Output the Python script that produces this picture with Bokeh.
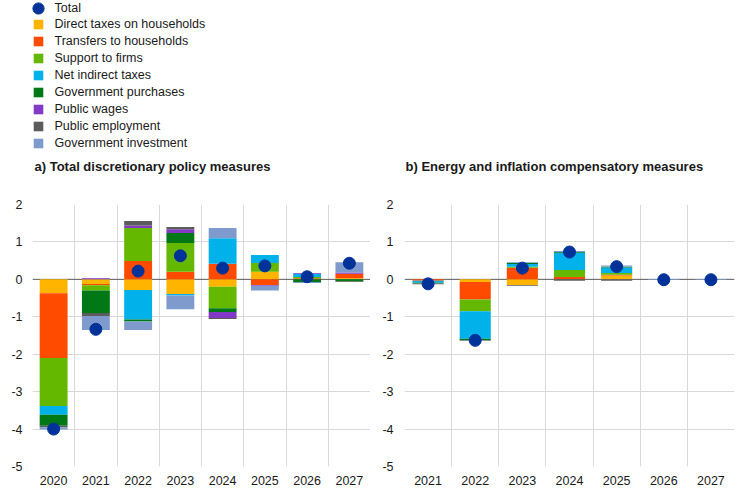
from bokeh.plotting import figure
from bokeh.models import Range1d, FixedTicker, Span, Legend, LegendItem, Label, ColumnDataSource
from bokeh.layouts import column, row
from bokeh.embed import file_html
from bokeh.resources import INLINE

# ---------------- data ----------------
series_names = ["Direct taxes on households", "Transfers to households", "Support to firms",
                "Net indirect taxes", "Government purchases", "Public wages",
                "Public employment", "Government investment"]
series_colors = ["#FFB400", "#FF4B00", "#65B800", "#00B1EA", "#007816", "#8139C6",
                 "#5C5C5C", "#7F9BCD"]
total_color = "#003299"

years_a = [2020, 2021, 2022, 2023, 2024, 2025, 2026, 2027]
direct_a = [-0.37, -0.125, -0.285, -0.39, -0.20, 0.20, 0.0, 0.03]
transfers_a = [-1.73, -0.035, 0.49, 0.20, 0.42, -0.15, 0.03, 0.12]
support_a = [-1.285, -0.14, 0.88, 0.77, -0.57, 0.24, 0.03, 0.0]
net_indirect_a = [-0.235, 0.0, -0.79, -0.04, 0.68, 0.21, 0.09, 0.0]
purchases_a = [-0.29, -0.60, -0.05, 0.27, -0.10, 0.0, -0.07, -0.05]
wages_a = [0.0, 0.03, 0.07, 0.10, -0.16, -0.02, 0.02, 0.03]
employment_a = [-0.04, -0.08, 0.12, 0.06, -0.03, 0.0, 0.0, -0.02]
investment_a = [-0.06, -0.37, -0.23, -0.37, 0.27, -0.13, -0.03, 0.28]
total_a = [-4.0, -1.335, 0.22, 0.63, 0.30, 0.36, 0.07, 0.43]

years_b = [2021, 2022, 2023, 2024, 2025, 2026, 2027]
direct_b = [0.0, -0.07, -0.15, 0.0, 0.10, 0.0, 0.0]
transfers_b = [-0.04, -0.47, 0.31, 0.06, 0.025, 0.0, 0.0]
support_b = [0.0, -0.31, 0.03, 0.19, 0.045, 0.0, 0.0]
net_indirect_b = [-0.05, -0.74, 0.07, 0.46, 0.15, 0.0, 0.0]
purchases_b = [-0.02, -0.04, 0.03, 0.02, 0.02, 0.0, 0.0]
wages_b = [0.0, 0.0, 0.0, 0.0, 0.0, 0.0, 0.0]
employment_b = [-0.02, -0.01, -0.02, -0.04, -0.035, 0.0, 0.0]
investment_b = [0.0, -0.01, 0.02, 0.03, 0.03, -0.02, -0.02]
total_b = [-0.12, -1.63, 0.30, 0.73, 0.34, -0.01, -0.01]

y_ticks = [-5, -4, -3, -2, -1, 0, 1, 2]

title_a = "a) Total discretionary policy measures"
title_b = "b) Energy and inflation compensatory measures"

FONT = "'Liberation Sans', Arial, sans-serif"
TITLE_FONT = "'Liberation Sans Narrow', 'Arial Narrow', 'Liberation Sans', sans-serif"
TEXT_COLOR = "#1a1a1a"
GRID_COLOR = "#d9d9d9"


def make_chart(years, series, total, width, left_border, right_border, standoff):
    p = figure(width=width, height=301, output_backend="svg", toolbar_location=None,
               x_range=Range1d(years[0] - 0.5, years[-1] + 0.5), y_range=Range1d(-5, 2),
               min_border_left=left_border, min_border_right=right_border, min_border_top=14,
               min_border_bottom=25)
    p.outline_line_color = None
    p.background_fill_color = "white"
    p.border_fill_color = "white"

    # grids
    p.xgrid.ticker = FixedTicker(ticks=[y - 0.5 for y in years] + [years[-1] + 0.5])
    p.xgrid.grid_line_color = GRID_COLOR
    p.ygrid.ticker = FixedTicker(ticks=[t for t in y_ticks if t != 0])
    p.ygrid.grid_line_color = GRID_COLOR
    p.add_layout(Span(location=0, dimension="width", line_color="#595959", line_width=1,
                      level="underlay"))

    # stacked bars (positive and negative stacks separately)
    n = len(years)
    pos = [0.0] * n
    neg = [0.0] * n
    for vals, color in zip(series, series_colors):
        bottoms, tops = [], []
        for i, v in enumerate(vals):
            if v >= 0:
                bottoms.append(pos[i]); pos[i] += v; tops.append(pos[i])
            else:
                tops.append(neg[i]); neg[i] += v; bottoms.append(neg[i])
        src = ColumnDataSource(data=dict(x=years, bottom=bottoms, top=tops))
        p.vbar(x="x", bottom="bottom", top="top", width=0.66, source=src,
               fill_color=color, line_color=None)

    tsrc = ColumnDataSource(data=dict(x=years, y=total))
    p.scatter(x="x", y="y", source=tsrc, marker="circle", size=12,
              fill_color=total_color, line_color=total_color)

    # axes
    p.xaxis.ticker = FixedTicker(ticks=years)
    p.xaxis.major_label_overrides = {y: str(y) for y in years}
    p.yaxis.ticker = FixedTicker(ticks=y_ticks)
    p.yaxis.major_label_overrides = {t: str(t) for t in y_ticks}
    for ax in (p.xaxis, p.yaxis):
        ax.axis_line_color = None
        ax.major_tick_line_color = None
        ax.minor_tick_line_color = None
        ax.major_tick_out = 0
        ax.major_tick_in = 0
        ax.major_label_text_font = FONT
        ax.major_label_text_font_size = "12.5px"
        ax.major_label_text_color = TEXT_COLOR
    p.xaxis.major_label_standoff = 9
    p.yaxis.major_label_standoff = standoff
    return p


left = make_chart(years_a, [direct_a, transfers_a, support_a, net_indirect_a, purchases_a,
                            wages_a, employment_a, investment_a], total_a, 370, 32, 0, 10)
right = make_chart(years_b, [direct_b, transfers_b, support_b, net_indirect_b, purchases_b,
                             wages_b, employment_b, investment_b], total_b, 372, 34, 8, 11)

# ---------------- header: legend + panel titles ----------------
header = figure(width=742, height=190, output_backend="svg", toolbar_location=None,
                x_range=Range1d(0, 742), y_range=Range1d(190, 0),
                x_axis_type=None, y_axis_type=None, min_border=0)
header.outline_line_color = None
header.background_fill_color = "white"
header.border_fill_color = "white"

# legend proxies (kept outside the visible range; only their legend glyphs show)
proxy = ColumnDataSource(data=dict(x=[-1000], y=[-1000]))
r_total = header.scatter(x="x", y="y", source=proxy, marker="circle", size=12,
                         fill_color=total_color, line_color=total_color)
legend_total = Legend(items=[LegendItem(label="Total", renderers=[r_total])],
                      location=(23.5, 168), glyph_width=28, glyph_height=28,
                      label_standoff=3, padding=0, margin=0, spacing=0,
                      label_text_font=FONT, label_text_font_size="12.5px",
                      label_text_color=TEXT_COLOR, border_line_color=None,
                      background_fill_alpha=0)
header.add_layout(legend_total, "center")

items = []
for name, color in zip(series_names, series_colors):
    r = header.vbar(x="x", top="y", width=1, source=proxy, fill_color=color, line_color=None)
    items.append(LegendItem(label=name, renderers=[r]))
legend_series = Legend(items=items, location=(31.5, 40), glyph_width=12, glyph_height=12,
                       label_height=12, label_standoff=11, padding=0, margin=0, spacing=3,
                       label_text_font=FONT, label_text_font_size="12.5px",
                       label_text_color=TEXT_COLOR, border_line_color=None,
                       background_fill_alpha=0)
header.add_layout(legend_series, "center")

for x, txt in ((34, title_a), (405, title_b)):
    header.add_layout(Label(x=x, y=166, text=txt, text_font=TITLE_FONT, text_font_style="bold",
                            text_font_size="13px", text_baseline="middle",
                            text_color=TEXT_COLOR))

page = column(header, row(left, right))

open("out.html", "w").write(file_html(page, INLINE))
